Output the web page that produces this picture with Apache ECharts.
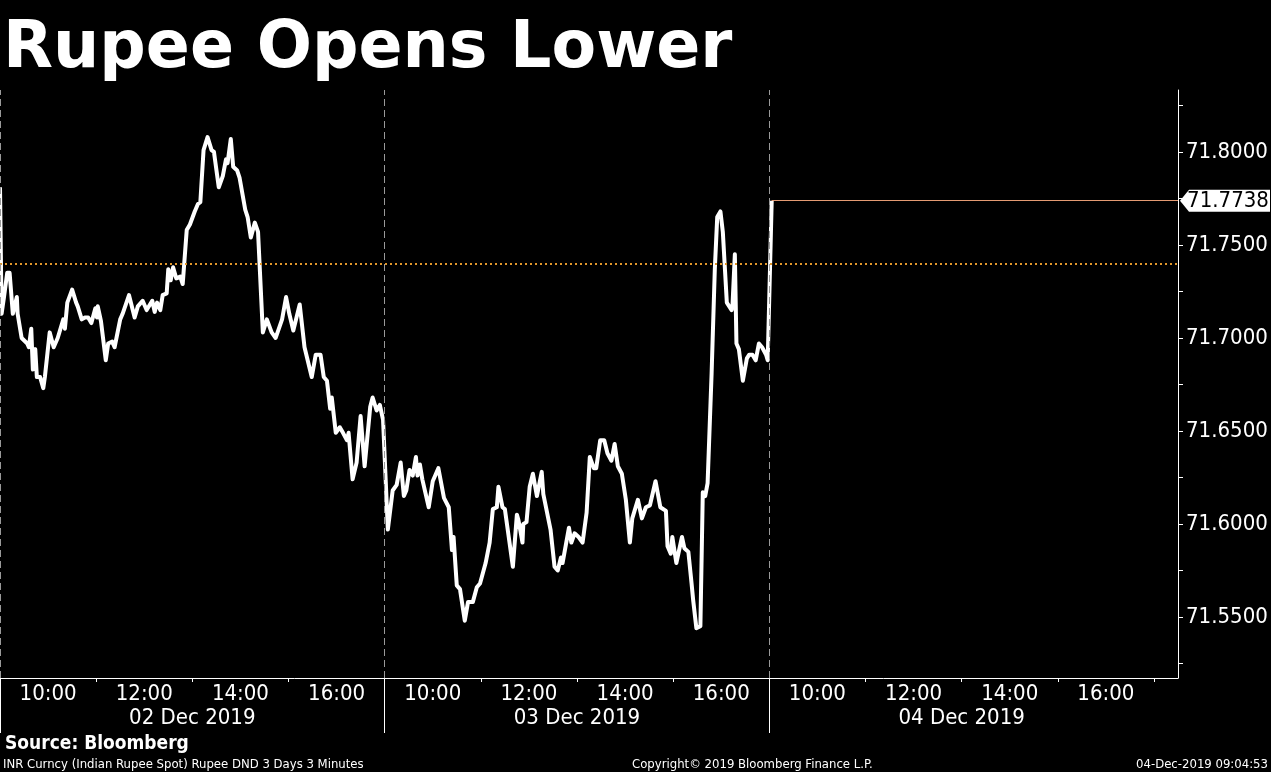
<!DOCTYPE html>
<html>
<head>
<meta charset="utf-8">
<script src="https://cdn.jsdelivr.net/npm/echarts@6/dist/echarts.min.js"></script>
<style>
html,body{margin:0;padding:0;background:#000;}
#chart{width:1271px;height:772px;}
</style>
</head>
<body>
<div id="chart"></div>
<script>
// ---- data ----
const dayLabels = ['02 Dec 2019', '03 Dec 2019', '04 Dec 2019'];
const hourLabels = ['10:00', '12:00', '14:00', '16:00'];
const minorTickHours = ['11:00', '13:00', '15:00', '17:00'];
const yLabelValues = [71.55, 71.60, 71.65, 71.70, 71.75, 71.80];
const yMinorTicks = [71.525, 71.55, 71.575, 71.60, 71.625, 71.65, 71.675, 71.70, 71.725, 71.75, 71.775, 71.80, 71.825];
const prevClose = 71.7392;

const d1Times = ['09:00','09:02','09:05','09:09','09:12','09:16','09:21','09:22','09:27','09:34','09:36','09:39','09:41','09:44','09:46','09:50','09:54','09:56','10:02','10:07','10:12','10:19','10:21','10:24','10:30','10:35','10:37','10:42','10:46','10:50','10:54','10:59','11:01','11:02','11:06','11:12','11:15','11:20','11:23','11:30','11:33','11:41','11:48','11:52','11:58','12:03','12:10','12:13','12:16','12:20','12:23','12:28','12:30','12:33','12:36','12:40','12:45','12:48','12:53','12:57','13:03','13:07','13:10','13:14','13:19','13:24','13:27','13:33','13:38','13:42','13:44','13:48','13:51','13:56','13:59','14:06','14:09','14:13','14:18','14:22','14:28','14:33','14:39','14:44','14:52','14:57','15:01','15:06','15:14','15:20','15:29','15:34','15:40','15:44','15:48','15:52','15:54','15:59','16:04','16:08','16:13','16:15','16:20','16:25','16:30','16:35','16:42','16:45','16:50','16:54','16:58'];
const d1Values = [71.781,71.713,71.722,71.735,71.735,71.713,71.722,71.713,71.700,71.697,71.695,71.705,71.683,71.694,71.679,71.679,71.673,71.679,71.703,71.695,71.700,71.710,71.705,71.719,71.726,71.719,71.717,71.710,71.711,71.711,71.708,71.716,71.711,71.717,71.709,71.688,71.697,71.698,71.695,71.710,71.713,71.723,71.711,71.717,71.720,71.715,71.720,71.714,71.719,71.715,71.723,71.724,71.737,71.731,71.738,71.732,71.733,71.729,71.758,71.761,71.768,71.772,71.773,71.801,71.808,71.801,71.800,71.781,71.787,71.796,71.794,71.807,71.792,71.790,71.786,71.769,71.765,71.754,71.762,71.757,71.703,71.710,71.703,71.700,71.710,71.722,71.713,71.704,71.718,71.695,71.679,71.691,71.691,71.679,71.677,71.662,71.668,71.649,71.652,71.649,71.645,71.649,71.624,71.633,71.658,71.631,71.663,71.668,71.661,71.664,71.656];

const d2Times = ['09:04','09:10','09:15','09:20','09:24','09:27','09:31','09:35','09:39','09:41','09:44','09:47','09:55','10:00','10:07','10:14','10:20','10:24','10:26','10:30','10:34','10:40','10:44','10:50','10:55','10:59','11:06','11:11','11:15','11:20','11:22','11:27','11:30','11:40','11:45','11:47','11:52','11:53','11:57','12:01','12:05','12:10','12:16','12:18','12:27','12:32','12:36','12:40','12:42','12:50','12:53','12:57','13:02','13:07','13:12','13:16','13:21','13:24','13:29','13:34','13:38','13:43','13:47','13:51','13:56','14:01','14:06','14:09','14:16','14:21','14:26','14:31','14:38','14:44','14:51','14:53','14:57','14:59','15:04','15:11','15:14','15:19','15:23','15:25','15:29','15:34','15:37','15:40','15:43','15:48','15:52','15:55','15:59','16:02','16:07','16:09','16:13','16:14','16:17','16:19','16:22','16:27','16:29','16:32','16:35','16:39','16:43','16:47','16:51','16:56','16:58'];
const d2Values = [71.597,71.618,71.621,71.633,71.615,71.618,71.629,71.626,71.636,71.626,71.632,71.624,71.609,71.623,71.630,71.614,71.609,71.586,71.593,71.567,71.565,71.548,71.558,71.558,71.566,71.568,71.579,71.590,71.608,71.609,71.620,71.609,71.608,71.577,71.605,71.602,71.590,71.600,71.601,71.620,71.627,71.615,71.628,71.616,71.597,71.577,71.575,71.582,71.579,71.598,71.590,71.595,71.593,71.590,71.606,71.636,71.630,71.630,71.645,71.645,71.638,71.634,71.643,71.631,71.627,71.613,71.590,71.603,71.613,71.603,71.609,71.610,71.623,71.609,71.607,71.588,71.584,71.593,71.579,71.593,71.587,71.585,71.568,71.559,71.544,71.545,71.617,71.615,71.622,71.681,71.737,71.765,71.768,71.757,71.719,71.719,71.715,71.717,71.745,71.697,71.694,71.677,71.677,71.689,71.691,71.691,71.688,71.697,71.695,71.691,71.688];

const d3Times = ['09:03'];
const d3Values = [71.7738];

// ---- build ----
const DAY_MIN = 480;          // 09:00 - 17:00 trading window
const X_MAX = 1470;           // axis extends a little past day 3 close
function toMin(day, t) {
  const p = t.split(':').map(Number);
  return day * DAY_MIN + (p[0] - 9) * 60 + p[1];
}
const days = [[d1Times, d1Values], [d2Times, d2Values], [d3Times, d3Values]];
const seriesData = [];
days.forEach(function (d, i) {
  d[0].forEach(function (t, k) { seriesData.push([toMin(i, t), d[1][k]]); });
});
const last = seriesData[seriesData.length - 1];

const hourTicks = [], minorTicks = [], dayCenters = [], dayStarts = [];
for (let i = 0; i < 3; i++) {
  hourLabels.forEach(function (h) { hourTicks.push(toMin(i, h)); });
  minorTickHours.forEach(function (h) { const v = toMin(i, h); if (v < X_MAX && (h !== '17:00' || i === 2)) minorTicks.push(v); });
  dayCenters.push(i * DAY_MIN + DAY_MIN / 2);
  dayStarts.push(i * DAY_MIN);
}
function fmtTime(v) {
  const m = ((v % DAY_MIN) + DAY_MIN) % DAY_MIN;
  const h = 9 + Math.floor(m / 60), mm = m % 60;
  return (h < 10 ? '0' : '') + h + ':' + (mm < 10 ? '0' : '') + mm;
}

const LBL_FONT = "'DejaVu Sans Condensed', 'Liberation Sans', sans-serif";

const chart = echarts.init(document.getElementById('chart'), null, { renderer: 'canvas' });
chart.setOption({
  backgroundColor: '#000000',
  animation: false,
  title: [
    { text: 'Rupee Opens Lower', left: 3, top: 18, padding: 0,
      textStyle: { color: '#fff', fontSize: 65, fontWeight: 'bold', fontFamily: 'DejaVu Sans' } },
    { text: 'Source: Bloomberg', left: 5, top: 735, padding: 0,
      textStyle: { color: '#fff', fontSize: 19, fontWeight: 'bold', fontFamily: LBL_FONT } },
    { text: 'INR Curncy (Indian Rupee Spot) Rupee DND 3 Days 3 Minutes', left: 3, top: 758, padding: 0,
      textStyle: { color: '#fff', fontSize: 13, fontWeight: 'normal', fontFamily: LBL_FONT } },
    { text: 'Copyright\u00A9 2019 Bloomberg Finance L.P.', left: 632, top: 758, padding: 0,
      textStyle: { color: '#fff', fontSize: 13, fontWeight: 'normal', fontFamily: LBL_FONT } },
    { text: '04-Dec-2019 09:04:53', right: 3, top: 758, padding: 0,
      textStyle: { color: '#fff', fontSize: 13, fontWeight: 'normal', fontFamily: LBL_FONT } }
  ],
  grid: { left: 0, right: 93, top: 90, bottom: 94, containLabel: false },
  xAxis: [
    {
      type: 'value', min: 0, max: X_MAX, position: 'bottom',
      axisLine: { show: true, onZero: false, lineStyle: { color: '#fff', width: 1 } },
      axisTick: { show: true, customValues: minorTicks, length: 4, inside: false, lineStyle: { color: '#fff' } },
      axisLabel: { show: true, customValues: hourTicks, formatter: fmtTime, color: '#fff', fontSize: 22, fontFamily: LBL_FONT, margin: 5 },
      splitLine: { show: false }
    },
    {
      type: 'value', min: 0, max: X_MAX, position: 'bottom',
      axisLine: { show: false, onZero: false },
      axisTick: { show: true, customValues: dayStarts, length: 55, inside: false, lineStyle: { color: '#fff', width: 1 } },
      axisLabel: { show: true, customValues: dayCenters, formatter: function (v) { return dayLabels[Math.floor(v / DAY_MIN)]; },
        color: '#fff', fontSize: 22, fontFamily: LBL_FONT, margin: 29 },
      splitLine: { show: false }
    }
  ],
  yAxis: {
    type: 'value', position: 'right', min: 71.5172, max: 71.8333, scale: true,
    axisLine: { show: true, onZero: false, lineStyle: { color: '#fff', width: 1 } },
    axisTick: { show: true, customValues: yMinorTicks, length: 5, inside: false, lineStyle: { color: '#fff' } },
    axisLabel: { show: true, customValues: yLabelValues, formatter: function (v) { return v.toFixed(4); },
      color: '#fff', fontSize: 22, fontFamily: LBL_FONT, margin: 8 },
    splitLine: { show: false }
  },
  series: [{
    type: 'line',
    data: seriesData,
    showSymbol: false,
    clip: false,
    lineStyle: { color: '#ffffff', width: 4, join: 'round' },
    markLine: {
      silent: true, symbol: ['none', 'none'], label: { show: false },
      data: [
        { yAxis: prevClose, lineStyle: { color: '#e0962a', type: [2, 3], width: 2 } },
        { xAxis: dayStarts[0], lineStyle: { color: '#9a9a9a', type: [7, 4], width: 1 } },
        { xAxis: dayStarts[1], lineStyle: { color: '#9a9a9a', type: [7, 4], width: 1 } },
        { xAxis: dayStarts[2], lineStyle: { color: '#9a9a9a', type: [7, 4], width: 1 } },
        [ { coord: [last[0], last[1]], lineStyle: { color: '#e59b73', type: 'solid', width: 1 } },
          { coord: [X_MAX, last[1]] } ]
      ]
    },
    markPoint: {
      silent: true,
      data: [{
        coord: [X_MAX, last[1]],
        symbol: 'path://M0,11 L9,0 L90,0 L90,22 L9,22 Z',
        symbolSize: [90, 22],
        symbolKeepAspect: false,
        symbolOffset: [47, 0],
        itemStyle: { color: '#ffffff' },
        label: { show: true, position: 'inside', offset: [3, 1], formatter: last[1].toFixed(4),
          color: '#000', fontSize: 22, fontFamily: LBL_FONT }
      }]
    }
  }]
});
</script>
</body>
</html>
